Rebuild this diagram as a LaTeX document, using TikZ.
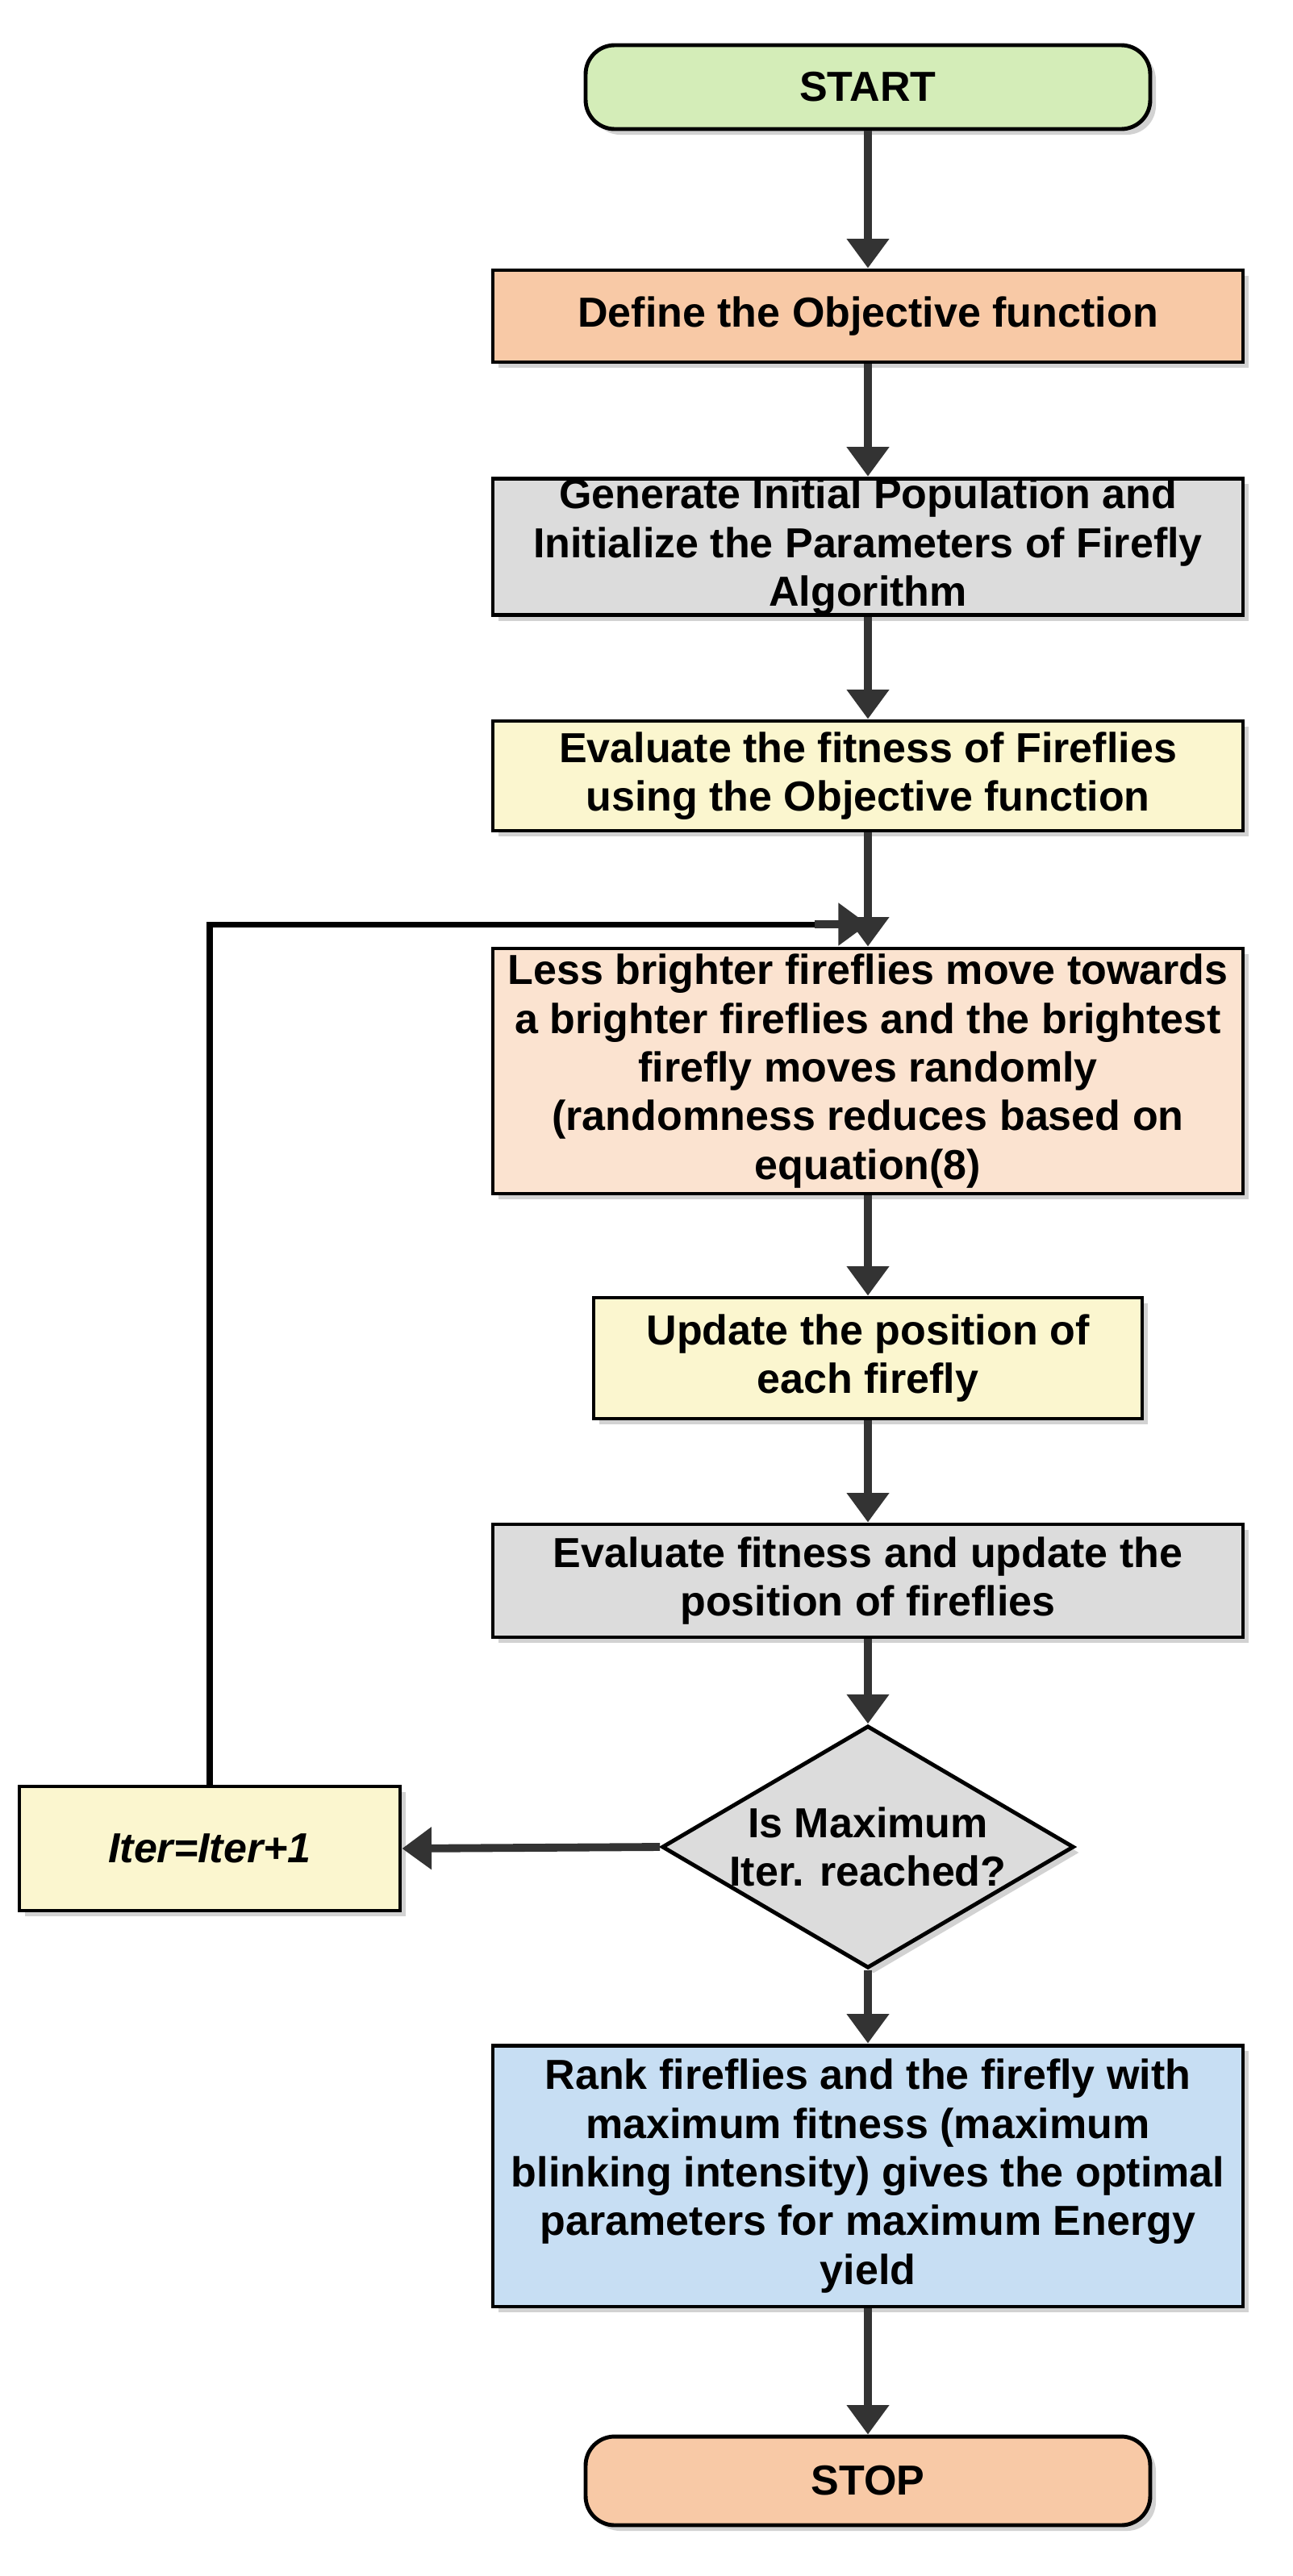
\documentclass[tikz,border=0pt]{standalone}
\usepackage{fontspec}
\setmainfont{Liberation Sans}
\usetikzlibrary{shapes.geometric,arrows.meta,shadows}
\definecolor{cgreen}{HTML}{D4EDB8}
\definecolor{corange}{HTML}{F8C9A6}
\definecolor{cgrey}{HTML}{DCDCDC}
\definecolor{cyellow}{HTML}{FBF6CF}
\definecolor{cpeach}{HTML}{FBE3D0}
\definecolor{cblue}{HTML}{C7DEF3}
\definecolor{cline}{HTML}{333333}
\begin{document}
\begin{tikzpicture}[x=0.05cm,y=-0.05cm,
  every node/.style={font=\fontsize{37}{43}\selectfont\bfseries,align=center,inner sep=0pt},
  box/.style={draw=black,line width=3.5pt,drop shadow={shadow xshift=5pt,shadow yshift=-5pt,fill=gray!70}},
  term/.style={box,rounded corners=0.9cm},
  arr/.style={draw=cline,line width=7pt,-{Triangle[length=26pt,width=36pt]}},
  ln/.style={draw=black,line width=5pt}]
\useasboundingbox (0,0) rectangle (801,1597);
\node[term,fill=cgreen,minimum width=17.5cm,minimum height=2.6cm] (start) at (538,54) {START};
\node[box,fill=corange,minimum width=23.25cm,minimum height=2.85cm] (def) at (538,196) {Define the Objective function};
\node[box,fill=cgrey,minimum width=23.25cm,minimum height=3.9cm] (gen) at (538,339) {Generate Initial Population and\\Initialize the Parameters of Firefly\\Algorithm};
\node[box,fill=cyellow,minimum width=23.25cm,minimum height=3.4cm] (eval) at (538,481) {Evaluate the fitness of Fireflies\\using the Objective function};
\node[box,fill=cpeach,minimum width=23.25cm,minimum height=7.6cm] (less) at (538,664) {Less brighter fireflies move towards\\a brighter fireflies and the brightest\\firefly moves randomly\\(randomness reduces based on\\equation(8)};
\node[box,fill=cyellow,minimum width=17cm,minimum height=3.75cm] (upd) at (538,842) {Update the position of\\each firefly};
\node[box,fill=cgrey,minimum width=23.25cm,minimum height=3.5cm] (fit) at (538,980) {Evaluate fitness and update the\\position of fireflies};
\node[diamond,box,fill=cgrey,minimum width=11.8cm,minimum height=7cm,aspect=1.7,inner sep=0pt] (dec) at (538,1145) {Is Maximum\\Iter. reached?};
\node[box,fill=cyellow,minimum width=11.8cm,minimum height=3.85cm,font=\fontsize{37}{43}\selectfont\bfseries\itshape] (iter) at (130,1146) {Iter=Iter+1};
\node[box,fill=cblue,minimum width=23.25cm,minimum height=8.1cm] (rank) at (538,1349) {Rank fireflies and the firefly with\\maximum fitness (maximum\\blinking intensity) gives the optimal\\parameters for maximum Energy\\yield};
\node[term,fill=corange,minimum width=17.5cm,minimum height=2.75cm] (stop) at (538,1538) {STOP};
\draw[arr] (start.south) -- (def.north);
\draw[arr] (def.south) -- (gen.north);
\draw[arr] (gen.south) -- (eval.north);
\draw[arr] (eval.south) -- (less.north);
\draw[arr] (less.south) -- (upd.north);
\draw[arr] (upd.south) -- (fit.north);
\draw[arr] (fit.south) -- (dec.north);
\draw[arr] (dec.south) -- (rank.north);
\draw[arr] (rank.south) -- (stop.north);
\draw[arr] (dec.west) -- (iter.east);
\coordinate (j) at (538,573);
\draw[ln] (iter.north) -- (130,573) -- (515,573);
\draw[arr] (505,573) -- (j);
\end{tikzpicture}
\end{document}
